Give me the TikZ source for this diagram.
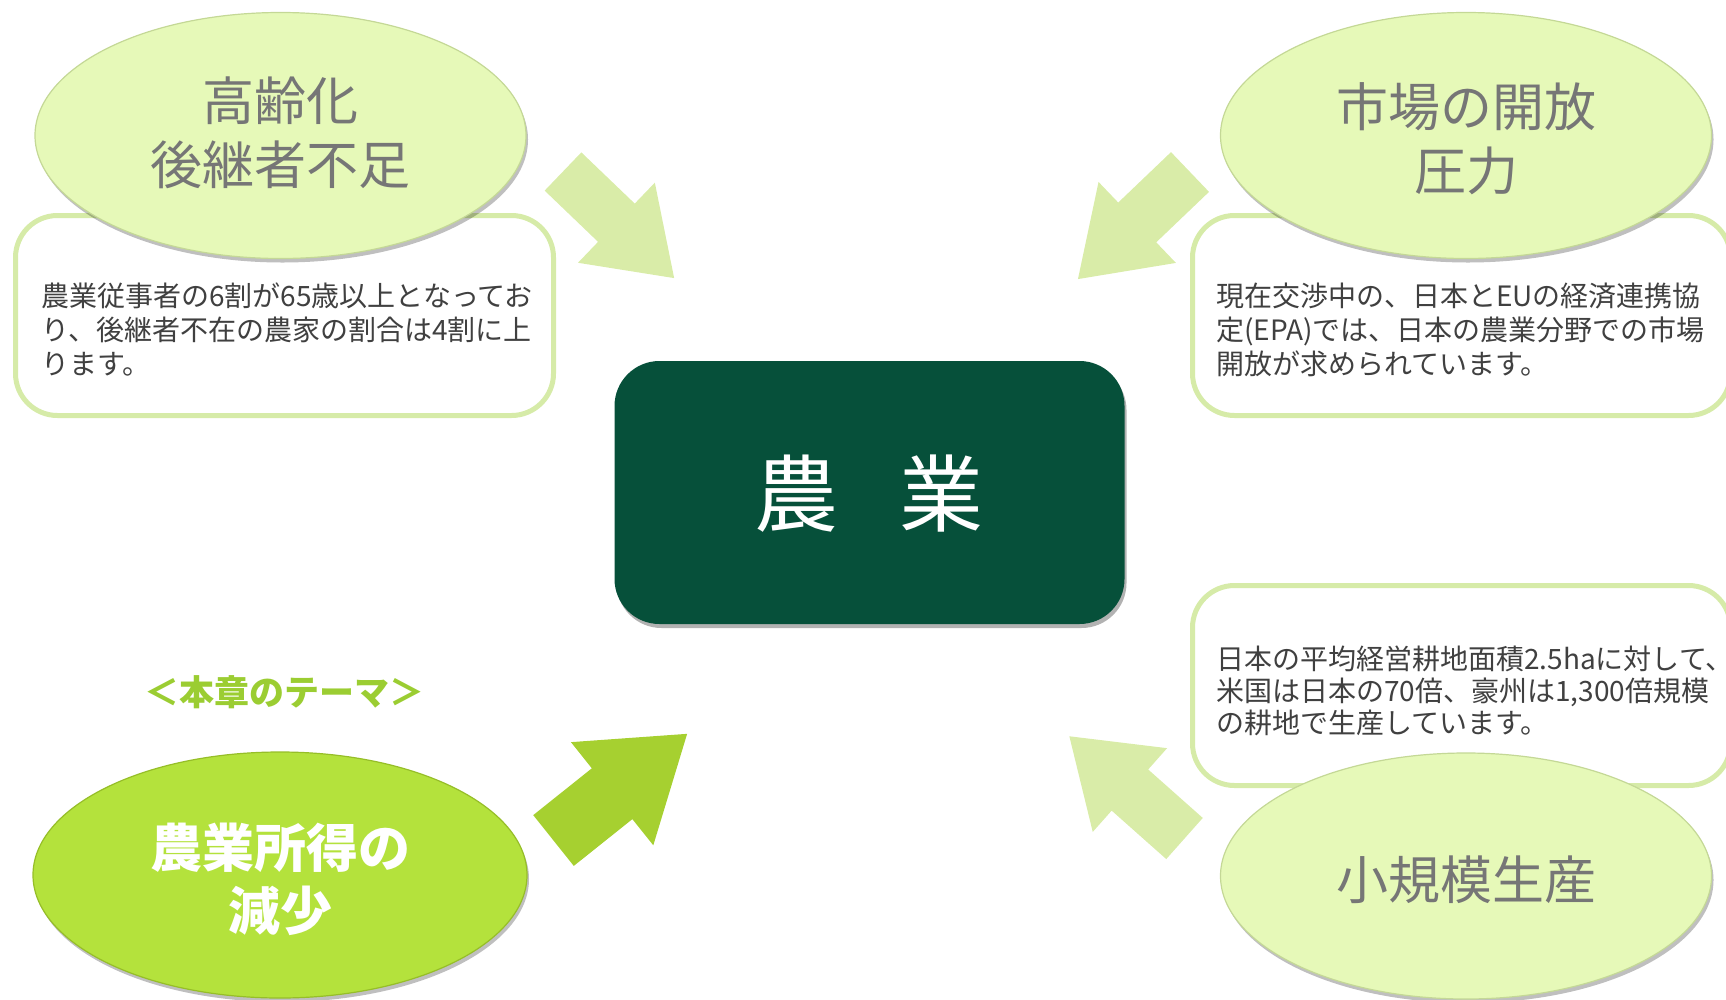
\documentclass[tikz,border=0pt]{standalone}
\usepackage{fontspec}
\newfontfamily\jp{Noto Sans CJK JP}
\usetikzlibrary{shadows,shapes.geometric}
\definecolor{paleFill}{RGB}{230,249,184}
\definecolor{paleRim}{RGB}{196,216,150}
\definecolor{paleArrow}{RGB}{217,236,168}
\definecolor{boxBorder}{RGB}{214,235,168}
\definecolor{limeFill}{RGB}{180,226,60}
\definecolor{limeRim}{RGB}{150,190,40}
\definecolor{limeArrow}{RGB}{166,208,48}
\definecolor{darkGreen}{RGB}{6,80,58}
\definecolor{themeGreen}{RGB}{155,205,50}
\definecolor{ovalText}{RGB}{118,118,118}
\definecolor{bodyText}{RGB}{64,64,64}
\newcommand\BArrow[8]{\begin{scope}[shift={(#1,#2)},rotate=#3]
\fill[#8] (0,-#5) -- ({#4-#7},-#5) -- ({#4-#7},-#6) -- (#4,0) -- ({#4-#7},#6) -- ({#4-#7},#5) -- (0,#5) -- cycle;
\end{scope}}
\tikzset{
  infobox/.style={rectangle, rounded corners=42pt, draw=boxBorder, line width=5pt, fill=white, minimum width=538pt, minimum height=200pt, inner sep=0pt},
  bodytext/.style={anchor=base west, align=left, inner sep=0pt, text=bodyText, font=\jp\fontsize{28}{34}\selectfont},
  paleoval/.style={ellipse, fill=paleFill, draw=paleRim, line width=1.2pt, minimum width=491pt, minimum height=246pt, inner sep=0pt,
     drop shadow={shadow xshift=2pt, shadow yshift=-4pt, opacity=0.25, fill=black}},
  ovaltext/.style={align=center, inner sep=0pt, text=ovalText, font=\jp\fontsize{52}{64}\selectfont},
}
\begin{document}
\begin{tikzpicture}[x=1pt,y=-1pt]
\useasboundingbox (0,0) rectangle (1726,999);
% arrows
\BArrow{563}{171.5}{-43.8}{154}{26.5}{55.5}{80}{paleArrow}
\BArrow{1190}{172}{-136.3}{155}{27.5}{56}{82}{paleArrow}
\BArrow{553.5}{840.5}{38.6}{171}{32.5}{66}{96}{limeArrow}
\BArrow{1184.5}{838.5}{138.4}{154}{27.5}{56}{81}{paleArrow}
% info boxes
\node[infobox] (b1) at (284.5,315.5) {};
\node[infobox] (b2) at (1461.5,315.5) {};
\node[infobox] (b3) at (1461.5,685.5) {};
\node[bodytext] (t1) at (41,374) {農業従事者の6割が65歳以上となってお\\り、後継者不在の農家の割合は4割に上\\ります。};
\node[bodytext] (t2) at (1216,374) {現在交渉中の、日本とEUの経済連携協\\定(EPA)では、日本の農業分野での市場\\開放が求められています。};
\node[bodytext, font=\jp\fontsize{28}{32}\selectfont] (t3) at (1216,733) {日本の平均経営耕地面積2.5haに対して、\\米国は日本の70倍、豪州は1,300倍規模\\の耕地で生産しています。};
% ovals
\node[paleoval] (e1) at (280.5,135.5) {};
\node[paleoval] (e2) at (1466,135.5) {};
\node[paleoval] (e4) at (1466,876) {};
\node[ellipse, fill=limeFill, draw=limeRim, line width=1.2pt, minimum width=494pt, minimum height=246pt, inner sep=0pt,
     drop shadow={shadow xshift=2pt, shadow yshift=-4pt, opacity=0.25, fill=black}] (e3) at (280,875) {};
\node[ovaltext] (l1) at (280.5,133) {高齢化\\後継者不足};
\node[ovaltext] (l2) at (1466,138.5) {市場の開放\\圧力};
\node[ovaltext] (l4) at (1466,880) {小規模生産};
\node[ovaltext, text=white, font=\jp\bfseries\fontsize{52}{63}\selectfont] (l3) at (280,879) {農業所得の\\減少};
\node[inner sep=0pt, text=themeGreen, font=\jp\bfseries\fontsize{35}{40}\selectfont] (theme) at (284,692) {＜本章のテーマ＞};
% center
\node[rectangle, rounded corners=45pt, fill=darkGreen, minimum width=510pt, minimum height=263pt, inner sep=0pt,
     drop shadow={shadow xshift=2pt, shadow yshift=-4pt, opacity=0.3, fill=black}] (c) at (869.5,492.5) {};
\node[inner sep=0pt, text=white, font=\jp\fontsize{84}{90}\selectfont] (ct) at (869,494) {農\hspace{61pt}業};
\end{tikzpicture}
\end{document}
